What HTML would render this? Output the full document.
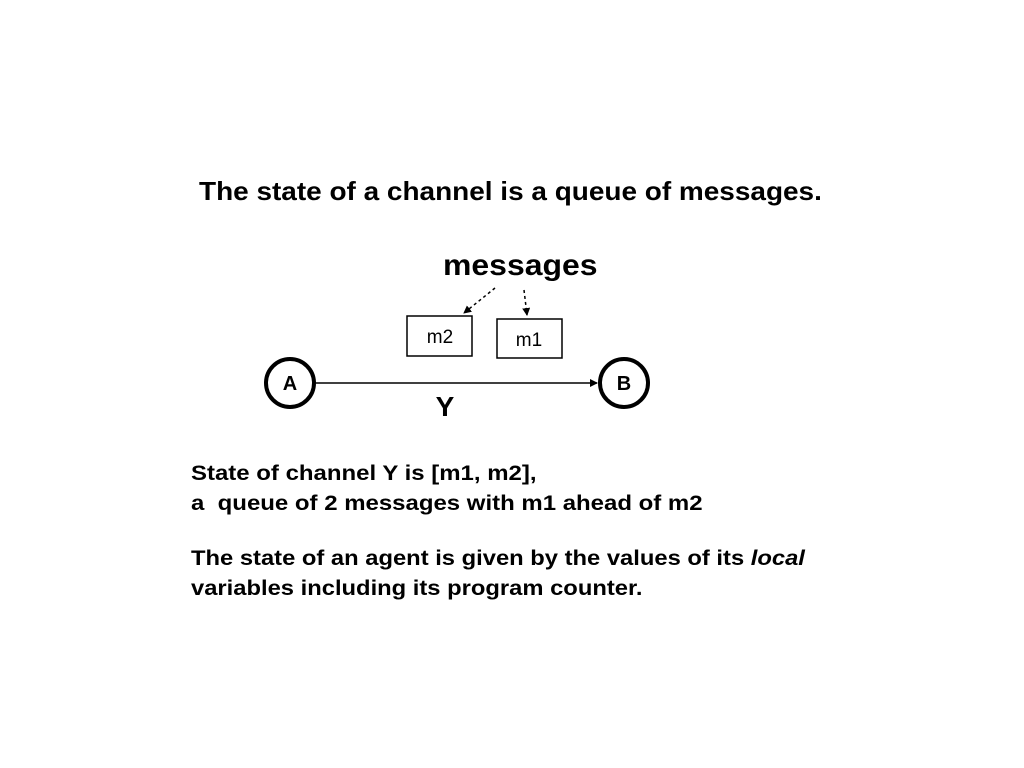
<!DOCTYPE html>
<html><head><style>
body{margin:0;width:1024px;height:768px;background:#fff;position:relative;font-family:"Liberation Sans",Arial,sans-serif;font-weight:bold;color:#000;overflow:hidden}
.t{position:absolute;white-space:nowrap;transform-origin:0 0}
</style></head><body>
<div class="t" style="left:199px;top:176px;font-size:26px;transform:scaleX(1.075)">The state of a channel is a queue of messages.</div>
<div class="t" style="left:443px;top:249px;font-size:30px;transform:scaleX(1.065)">messages</div>
<svg width="1024" height="768" style="position:absolute;left:0;top:0">
<defs><marker id="a" markerWidth="8" markerHeight="8" refX="7" refY="4" orient="auto" markerUnits="userSpaceOnUse"><path d="M0,0 L8,4 L0,8z"/></marker></defs>
<line x1="495" y1="288" x2="464" y2="313" stroke="#000" stroke-width="1.5" stroke-dasharray="3,3" marker-end="url(#a)"/>
<line x1="524" y1="290" x2="527" y2="315" stroke="#000" stroke-width="1.5" stroke-dasharray="3,3" marker-end="url(#a)"/>
<rect x="407" y="316" width="65" height="40" fill="none" stroke="#000" stroke-width="1.5"/>
<rect x="497" y="319" width="65" height="39" fill="none" stroke="#000" stroke-width="1.5"/>
<text x="440" y="343" font-size="19" font-weight="normal" text-anchor="middle" font-family="Liberation Sans">m2</text>
<text x="529" y="346" font-size="19" font-weight="normal" text-anchor="middle" font-family="Liberation Sans">m1</text>
<circle cx="290" cy="383" r="24" fill="none" stroke="#000" stroke-width="4"/>
<circle cx="624" cy="383" r="24" fill="none" stroke="#000" stroke-width="4"/>
<text x="290" y="390" font-size="20" text-anchor="middle" font-weight="bold" font-family="Liberation Sans">A</text>
<text x="624" y="390" font-size="20" text-anchor="middle" font-weight="bold" font-family="Liberation Sans">B</text>
<line x1="316" y1="383" x2="597" y2="383" stroke="#000" stroke-width="1.5" marker-end="url(#a)"/>
<text x="445" y="416" font-size="28" text-anchor="middle" font-weight="bold" font-family="Liberation Sans">Y</text>
</svg>
<div class="t" style="left:191px;top:458px;font-size:21.5px;line-height:30px;transform:scaleX(1.115)">State of channel Y is [m1, m2],<br>a&nbsp; queue of 2 messages with m1 ahead of m2</div>
<div class="t" style="left:191px;top:543px;font-size:21.5px;line-height:30px;transform:scaleX(1.105)">The state of an agent is given by the values of its <i>local</i><br>variables including its program counter.</div>
</body></html>
